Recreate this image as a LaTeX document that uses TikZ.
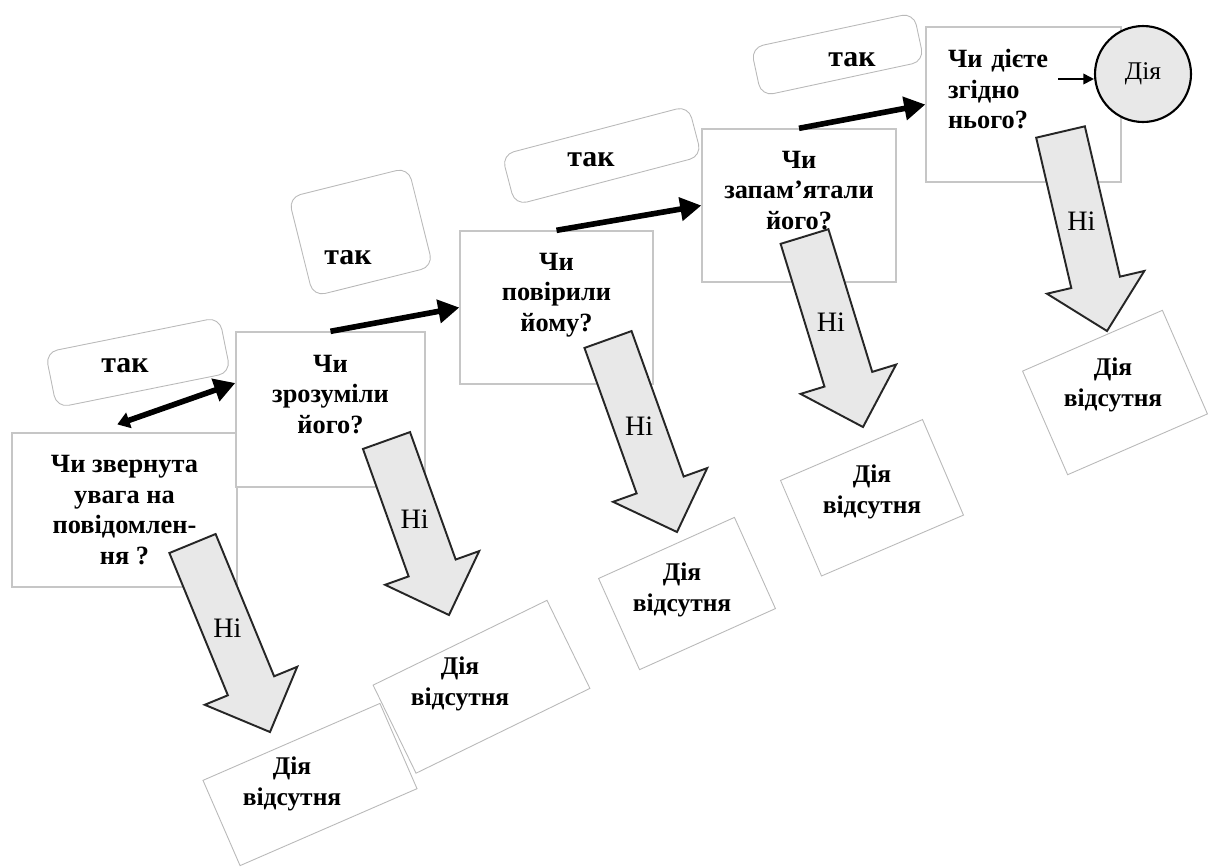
\documentclass[tikz,border=0pt]{standalone}
\usepackage{fontspec}
\setmainfont{Liberation Serif}
\usetikzlibrary{calc, arrows.meta}

\tikzset{
  question/.style={draw=gray!45, fill=white, line width=0.8pt, inner sep=0pt, align=center,
    font=\bfseries\fontsize{15}{17.4}\selectfont},
  yesbox/.style={draw=gray!55, rounded corners=7pt, line width=0.5pt, inner sep=0pt},
  yestext/.style={font=\bfseries\fontsize{17}{20}\selectfont},
  nobox/.style={draw=gray!55, fill=white, line width=0.5pt, inner sep=0pt},
  notext/.style={font=\bfseries\fontsize{14.5}{17.6}\selectfont, align=center},
  yesline/.style={line width=3.2pt, -{Triangle[length=12pt,width=13pt]}},
  nofill/.style={draw=black!85, fill=gray!18, line width=1.1pt},
  nolabel/.style={font=\fontsize{16}{19}\selectfont},
}

% block arrow from (#1s) to (#1e), labelled
\newcommand\noarrow[1]{%
  \coordinate (#1b) at ($(#1e)!1cm!(#1s)$);
  \draw[nofill] ($(#1s)!0.5cm!90:(#1e)$) -- ($(#1b)!0.5cm!90:(#1e)$) -- ($(#1b)!1cm!90:(#1e)$)
    -- (#1e) -- ($(#1b)!1cm!-90:(#1e)$) -- ($(#1b)!0.5cm!-90:(#1e)$) -- ($(#1s)!0.5cm!-90:(#1e)$) -- cycle;
  \node[nolabel] (#1t) at ($(#1s)!0.45!(#1e)$) {Ні};
}

\begin{document}
\begin{tikzpicture}[x=0.02cm, y=-0.02cm]
    \useasboundingbox (0,0) rectangle (1209,867);
    % questions
    \node[question, minimum width=4.5cm, minimum height=3.08cm] (q1) at (124.5,510) {Чи звернута\\увага на\\повідомлен-\\ня ?};
    \node[question, minimum width=3.78cm, minimum height=3.1cm] (q2) at (330.5,409.5) {Чи\\зрозуміли\\його?\\\mbox{}};
    \node[question, minimum width=3.86cm, minimum height=3.06cm] (q3) at (556.5,307.5) {Чи\\повірили\\йому?\\\mbox{}};
    \node[question, minimum width=3.88cm, minimum height=3.06cm] (q4) at (799,205.5) {Чи\\запам’ятали\\його?\\\mbox{}};
    \node[question, align=left, text width=3.02cm, inner xsep=0.44cm, minimum height=3.1cm] (q5) at (1023.5,104.5) {Чи дієте\\згідно\\нього?\\\mbox{}};

    % yes labels
    \node[yesbox, minimum width=3.55cm, minimum height=1.13cm, rotate=11.4] (t1) at (138,362.5) {};
    \node[yestext] (t1l) at (125,366) {так};
    \node[yesbox, minimum width=2.47cm, minimum height=2.04cm, rotate=14] (t2) at (360.75,232) {};
    \node[yestext] (t2l) at (348,258) {так};
    \node[yesbox, minimum width=3.86cm, minimum height=1.04cm, rotate=14.7] (t3) at (601.75,155.5) {};
    \node[yestext] (t3l) at (591,160) {так};
    \node[yesbox, minimum width=3.33cm, minimum height=0.99cm, rotate=12.1] (t4) at (837.5,54.5) {};
    \node[yestext] (t4l) at (852,60) {так};

    % yes arrows
    \draw[yesline, {Triangle[length=7pt,width=9pt,sep=5pt]}-{Triangle[length=12pt,width=13pt]}]
        ([xshift=-0.31cm,yshift=0.1cm]q1.north) -- ([yshift=0.53cm]q2.west);
    \draw[yesline] (q2.north) -- (q3.west);
    \draw[yesline] (q3.north) -- (q4.west);
    \draw[yesline] (q4.north) -- (q5.west);

    % no answers
    \node[nobox, minimum width=3.86cm, minimum height=1.86cm, rotate=23.5] (d1) at (310,784.5) {};
    \node[notext] (d1l) at (292,784) {Дія\\відсутня};
    \node[nobox, minimum width=3.87cm, minimum height=1.96cm, rotate=26] (d2) at (481.5,686.75) {};
    \node[notext] (d2l) at (460,684) {Дія\\відсутня};
    \node[nobox, minimum width=2.98cm, minimum height=2cm, rotate=24.2] (d3) at (687,593.5) {};
    \node[notext] (d3l) at (682,590) {Дія\\відсутня};
    \node[nobox, minimum width=3.09cm, minimum height=2.08cm, rotate=23.2] (d4) at (872,497.75) {};
    \node[notext] (d4l) at (872,492) {Дія\\відсутня};
    \node[nobox, minimum width=3.05cm, minimum height=2.26cm, rotate=23.5] (d5) at (1115,392.5) {};
    \node[notext] (d5l) at (1113,385) {Дія\\відсутня};

    % no arrows
    \coordinate (n1s) at (192.5,543.5);  \coordinate (n1e) at (270,732);
    \coordinate (n2s) at (386.5,440.5);  \coordinate (n2e) at (449,615);
    \coordinate (n3s) at (608,339.5);    \coordinate (n3e) at (677,532);
    \coordinate (n4s) at (804.5,236.5);  \coordinate (n4e) at (863,427);
    \coordinate (n5s) at (1060.5,132);   \coordinate (n5e) at (1107,331);
    \noarrow{n1} \noarrow{n2} \noarrow{n3} \noarrow{n4} \noarrow{n5}

    % action
    \node[circle, draw, fill=gray!18, line width=1.2pt, minimum size=1.92cm, inner sep=0pt,
          font=\fontsize{14.5}{17}\selectfont] (act) at (1143,74) {\raisebox{3pt}{Дія}};
    \coordinate (q5r) at (1058,79);
    \draw[line width=1pt, -{Triangle[length=6pt,width=6pt]}] (q5r) -- (q5r -| act.west);
\end{tikzpicture}
\end{document}
